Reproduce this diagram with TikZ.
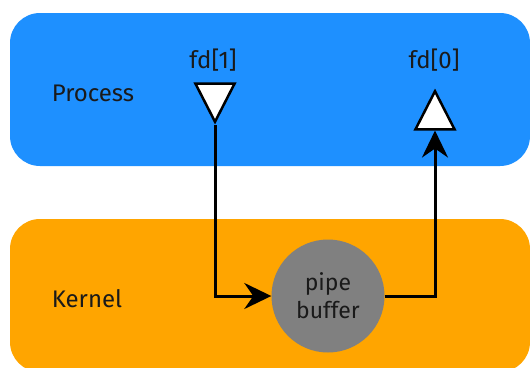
\documentclass[tikz,border=0pt]{standalone}
\usepackage{fontspec}
\setmainfont{Fira Sans}
\usetikzlibrary{shapes.geometric,arrows.meta}
\definecolor{procblue}{HTML}{1E90FF}
\definecolor{kernorange}{HTML}{FFA500}
\definecolor{bufgray}{HTML}{808080}
\definecolor{ink}{HTML}{1A1A1A}
\tikzset{
  region/.style={fill=#1, draw=none, rounded corners=30pt},
  lbl/.style={text=ink, font=\fontsize{24}{26}\selectfont, inner sep=0pt},
  fdend/.style={isosceles triangle, isosceles triangle stretches, fill=white,
    draw=black, line width=2.5pt, minimum width=39pt, minimum height=38pt,
    inner sep=0pt},
  flow/.style={draw=black, line width=3pt,
    -{Stealth[length=27pt, width=26pt, inset=9pt]}},
}
\begin{document}
\begin{tikzpicture}[x=1pt, y=-1pt]
  \useasboundingbox (0,0) rectangle (530,367);
  % address space of the process and the kernel
  \path[region=procblue] (10,13) rectangle (530,166);
  \path[region=kernorange] (10,219) rectangle (530,372);
  \node[lbl] (proc) at (93,93) {Process};
  \node[lbl] (kern) at (87,299) {Kernel};
  % file descriptors
  \node[lbl] (fd1lbl) at (213,60) {fd[1]};
  \node[lbl] (fd0lbl) at (434,60) {fd[0]};
  \node[fdend, shape border rotate=-90, anchor=apex] (fd1) at (215,125) {};
  \node[fdend, shape border rotate=90, anchor=apex] (fd0) at (435,88) {};
  % kernel buffer
  \node[circle, fill=bufgray, minimum size=113pt, inner sep=0pt, text=ink,
    align=center, font=\fontsize{23}{28}\selectfont] (buf) at (328,296)
    {pipe\\buffer};
  % data path
  \draw[flow] (fd1.apex) |- (buf.west);
  \draw[flow] (buf.east) -| (fd0.south);
\end{tikzpicture}
\end{document}
